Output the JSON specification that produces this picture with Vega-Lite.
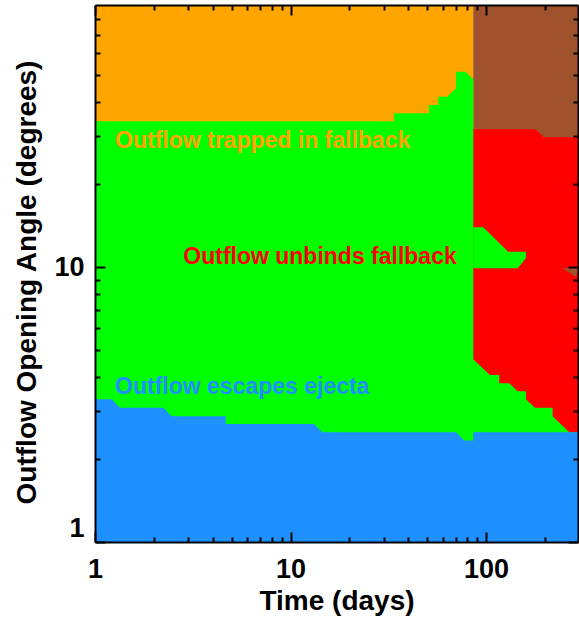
{
  "$schema": "https://vega.github.io/schema/vega-lite/v6.json",
  "width": 483,
  "height": 537,
  "autosize": {"type": "none"},
  "padding": {"left": 95, "top": 5, "right": 1, "bottom": 76},
  "datasets": {
    "trapped": [
      {"t": 1, "lo": 1, "hi": 90},
      {"t": 85.9, "lo": 1, "hi": 90}
    ],
    "late": [
      {"t": 85.9, "lo": 1, "hi": 90},
      {"t": 295, "lo": 1, "hi": 90}
    ],
    "unbinds": [
      {"t": 85.9, "lo": 1, "hi": 31.8},
      {"t": 179.1, "lo": 1, "hi": 31.8},
      {"t": 197.5, "lo": 1, "hi": 29.7},
      {"t": 295, "lo": 1, "hi": 29.7}
    ],
    "escapes_fallback": [
      {"t": 1, "lo": 1, "hi": 34.0},
      {"t": 33.8, "lo": 1, "hi": 34.0},
      {"t": 33.8, "lo": 1, "hi": 36.3},
      {"t": 51.0, "lo": 1, "hi": 36.3},
      {"t": 51.0, "lo": 1, "hi": 38.9},
      {"t": 56.9, "lo": 1, "hi": 38.9},
      {"t": 56.9, "lo": 1, "hi": 41.7},
      {"t": 63.2, "lo": 1, "hi": 41.7},
      {"t": 70.1, "lo": 1, "hi": 44.8},
      {"t": 70.1, "lo": 1, "hi": 51.4},
      {"t": 78.6, "lo": 1, "hi": 51.4},
      {"t": 85.9, "lo": 1, "hi": 48.3},
      {"t": 85.9, "lo": 1, "hi": 4.62},
      {"t": 104.6, "lo": 1, "hi": 4.05},
      {"t": 116.7, "lo": 1, "hi": 4.05},
      {"t": 116.7, "lo": 1, "hi": 3.78},
      {"t": 131.3, "lo": 1, "hi": 3.78},
      {"t": 144.9, "lo": 1, "hi": 3.54},
      {"t": 159.7, "lo": 1, "hi": 3.54},
      {"t": 159.7, "lo": 1, "hi": 3.31},
      {"t": 177.7, "lo": 1, "hi": 3.08},
      {"t": 218.8, "lo": 1, "hi": 3.08},
      {"t": 218.8, "lo": 1, "hi": 2.87},
      {"t": 266.0, "lo": 1, "hi": 2.51},
      {"t": 295, "lo": 1, "hi": 2.51}
    ],
    "island": [
      {"t": 85.9, "lo": 9.91, "hi": 13.97},
      {"t": 96.6, "lo": 9.91, "hi": 13.97},
      {"t": 129.7, "lo": 9.91, "hi": 11.39},
      {"t": 144.9, "lo": 9.91, "hi": 11.39},
      {"t": 159.7, "lo": 10.77, "hi": 11.39}
    ],
    "ejecta": [
      {"t": 1, "lo": 1, "hi": 3.31},
      {"t": 1.217, "lo": 1, "hi": 3.31},
      {"t": 1.342, "lo": 1, "hi": 3.08},
      {"t": 2.235, "lo": 1, "hi": 3.08},
      {"t": 2.466, "lo": 1, "hi": 2.87},
      {"t": 4.66, "lo": 1, "hi": 2.87},
      {"t": 4.66, "lo": 1, "hi": 2.69},
      {"t": 13.17, "lo": 1, "hi": 2.69},
      {"t": 14.53, "lo": 1, "hi": 2.51},
      {"t": 70.1, "lo": 1, "hi": 2.51},
      {"t": 77.3, "lo": 1, "hi": 2.34},
      {"t": 85.9, "lo": 1, "hi": 2.34},
      {"t": 85.9, "lo": 1, "hi": 2.51},
      {"t": 295, "lo": 1, "hi": 2.51}
    ],
    "wedge": [
      {"t": 244.9, "lo": 9.91, "hi": 9.91},
      {"t": 286.9, "lo": 9.24, "hi": 9.91},
      {"t": 295, "lo": 9.7, "hi": 9.91}
    ],
    "notes": [
      {"t": 1.266, "a": 27.1, "label": "Outflow trapped in fallback", "region": "trapped"},
      {"t": 2.828, "a": 10.25, "label": "Outflow unbinds fallback", "region": "unbinds"},
      {"t": 1.266, "a": 3.46, "label": "Outflow escapes ejecta", "region": "escapes"}
    ]
  },
  "resolve": {"axis": {"x": "independent", "y": "independent"}},
  "layer": [
    {
      "data": {"name": "trapped"},
      "mark": {"type": "area", "color": "#FFA500", "clip": true},
      "encoding": {
        "x": {"field": "t", "type": "quantitative",
              "scale": {"type": "log", "domain": [1, 295], "nice": false},
              "axis": {"orient": "bottom", "values": [1, 10, 100], "format": "d", "zindex": 2,
                       "domain": true, "ticks": true,
                       "tickSize": -10, "labelPadding": 24, "labelOverlap": false, "labelFlush": false,
                       "title": "Time (days)", "titleY": 67, "titleBaseline": "alphabetic"}},
        "y": {"field": "lo", "type": "quantitative",
              "scale": {"type": "log", "domain": [1, 90], "nice": false},
              "axis": {"orient": "left", "values": [1, 10], "format": "d", "zindex": 2,
                       "domain": true, "ticks": true,
                       "tickSize": -10, "labelPadding": 21, "labelOverlap": false, "labelFlush": true,
                       "title": "Outflow Opening Angle (degrees)", "titleAngle": 270,
                       "titleX": -60, "titleY": 277, "titleBaseline": "alphabetic"}},
        "y2": {"field": "hi"}
      }
    },
    {
      "data": {"name": "late"},
      "mark": {"type": "area", "color": "#A0522D", "clip": true},
      "encoding": {
        "x": {"field": "t", "type": "quantitative",
              "axis": {"orient": "bottom", "values": [2, 3, 4, 5, 6, 7, 8, 9, 20, 30, 40, 50, 60, 70, 80, 90, 200],
                       "zindex": 2, "ticks": true,
                       "tickSize": -5, "labels": false, "domain": false, "title": null}},
        "y": {"field": "lo", "type": "quantitative",
              "axis": {"orient": "left", "values": [2, 3, 4, 5, 6, 7, 8, 9, 20, 30, 40, 50, 60, 70, 80],
                       "zindex": 2, "ticks": true,
                       "tickSize": -5, "labels": false, "domain": false, "title": null}},
        "y2": {"field": "hi"}
      }
    },
    {
      "data": {"name": "unbinds"},
      "mark": {"type": "area", "color": "#FF0000", "clip": true},
      "encoding": {
        "x": {"field": "t", "type": "quantitative",
              "axis": {"orient": "top", "values": [1, 10, 100], "zindex": 2,
                       "domain": true, "ticks": true,
                       "tickSize": -10, "labels": false, "title": null}},
        "y": {"field": "lo", "type": "quantitative",
              "axis": {"orient": "right", "values": [1, 10], "zindex": 2,
                       "domain": true, "ticks": true,
                       "tickSize": -10, "labels": false, "title": null}},
        "y2": {"field": "hi"}
      }
    },
    {
      "data": {"name": "escapes_fallback"},
      "mark": {"type": "area", "color": "#00FF00", "clip": true},
      "encoding": {
        "x": {"field": "t", "type": "quantitative",
              "axis": {"orient": "top", "values": [2, 3, 4, 5, 6, 7, 8, 9, 20, 30, 40, 50, 60, 70, 80, 90, 200],
                       "zindex": 2, "ticks": true,
                       "tickSize": -5, "labels": false, "domain": false, "title": null}},
        "y": {"field": "lo", "type": "quantitative",
              "axis": {"orient": "right", "values": [2, 3, 4, 5, 6, 7, 8, 9, 20, 30, 40, 50, 60, 70, 80],
                       "zindex": 2, "ticks": true,
                       "tickSize": -5, "labels": false, "domain": false, "title": null}},
        "y2": {"field": "hi"}
      }
    },
    {
      "data": {"name": "island"},
      "mark": {"type": "area", "color": "#00FF00", "clip": true},
      "encoding": {
        "x": {"field": "t", "type": "quantitative", "axis": null},
        "y": {"field": "lo", "type": "quantitative", "axis": null},
        "y2": {"field": "hi"}
      }
    },
    {
      "data": {"name": "ejecta"},
      "mark": {"type": "area", "color": "#1E90FF", "clip": true},
      "encoding": {
        "x": {"field": "t", "type": "quantitative", "axis": null},
        "y": {"field": "lo", "type": "quantitative", "axis": null},
        "y2": {"field": "hi"}
      }
    },
    {
      "data": {"name": "wedge"},
      "mark": {"type": "area", "color": "#A0522D", "clip": true},
      "encoding": {
        "x": {"field": "t", "type": "quantitative", "axis": null},
        "y": {"field": "lo", "type": "quantitative", "axis": null},
        "y2": {"field": "hi"}
      }
    },
    {
      "data": {"name": "notes"},
      "mark": {"type": "text", "align": "left", "baseline": "alphabetic",
               "font": "Liberation Sans", "fontWeight": "bold", "fontSize": 23},
      "encoding": {
        "x": {"field": "t", "type": "quantitative", "axis": null},
        "y": {"field": "a", "type": "quantitative", "axis": null},
        "text": {"field": "label"},
        "color": {"field": "region", "type": "nominal", "legend": null,
                  "scale": {"domain": ["trapped", "unbinds", "escapes"],
                            "range": ["#FFA500", "#FF0000", "#1E90FF"]}}
      }
    }
  ],
  "config": {
    "view": {"stroke": null},
    "axis": {
      "grid": false,
      "labelFont": "Liberation Sans",
      "labelFontWeight": "bold",
      "labelFontSize": 27,
      "labelColor": "black",
      "titleFont": "Liberation Sans",
      "titleFontWeight": "bold",
      "titleFontSize": 28,
      "titleColor": "black",
      "tickColor": "black",
      "tickWidth": 2,
      "domainColor": "black",
      "domainWidth": 2
    }
  }
}
